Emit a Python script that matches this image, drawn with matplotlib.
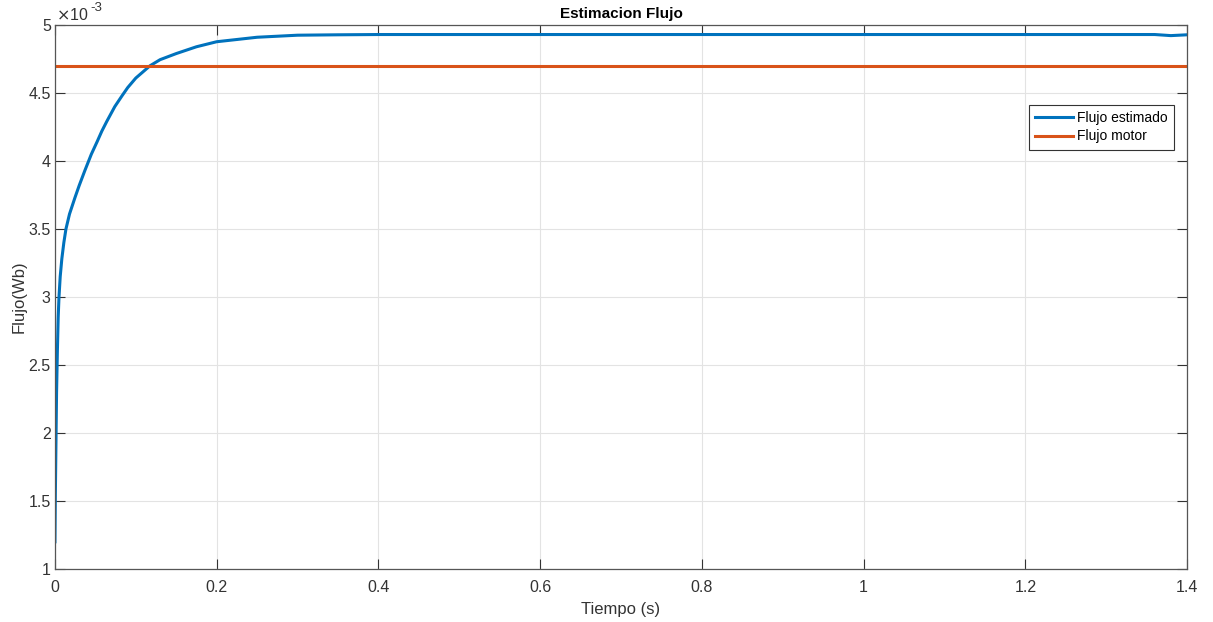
import matplotlib
matplotlib.use('Agg')
import matplotlib.pyplot as plt
import numpy as np

# valores (tiempo en s, flujo en Wb x1e-3)
t_est = [0.0, 0.0005, 0.0012, 0.002, 0.003, 0.004, 0.005, 0.0065, 0.0085, 0.011,
         0.0136, 0.018, 0.0247, 0.03, 0.037, 0.045, 0.052, 0.058, 0.064, 0.074, 0.083,
         0.09, 0.1, 0.1175, 0.13, 0.15, 0.175, 0.2, 0.25, 0.3, 0.35, 0.4, 0.5, 0.6, 0.7,
         0.8, 0.9, 1.0, 1.1, 1.2, 1.3, 1.36, 1.38, 1.4]
flujo_est = [1.2, 1.55, 1.9, 2.3, 2.6, 2.85, 3.0, 3.15, 3.28, 3.4,
             3.5, 3.61, 3.73, 3.82, 3.93, 4.05, 4.14, 4.22, 4.29, 4.4, 4.48,
             4.54, 4.61, 4.7, 4.745, 4.79, 4.84, 4.877, 4.91, 4.925, 4.928, 4.93, 4.93, 4.93, 4.93,
             4.93, 4.93, 4.93, 4.93, 4.93, 4.93, 4.93, 4.922, 4.928]
t_motor = [0.0, 1.4]
flujo_motor = [4.7, 4.7]

plt.rcParams['font.family'] = ['Liberation Sans', 'DejaVu Sans']

fig = plt.figure(figsize=(12.13, 6.22), dpi=100)
ax = fig.add_axes([0.0453, 0.0852, 0.9333, 0.8746])

ax.plot(t_est, np.array(flujo_est) * 1e-3, color='#0072BD', lw=2.2, label='Flujo estimado')
ax.plot(t_motor, np.array(flujo_motor) * 1e-3, color='#D95319', lw=2.2, label='Flujo motor')

ax.set_xlim(0, 1.4)
ax.set_ylim(1e-3, 5e-3)
ax.set_xticks(np.arange(0, 1.41, 0.2))
ax.set_xticklabels(['0', '0.2', '0.4', '0.6', '0.8', '1', '1.2', '1.4'])
ax.set_yticks(np.arange(1e-3, 5.01e-3, 0.5e-3))
ax.set_yticklabels(['1', '1.5', '2', '2.5', '3', '3.5', '4', '4.5', '5'])
ax.grid(True, color='#e3e3e3', lw=0.8)
ax.tick_params(direction='in', top=True, right=True, labelsize=11.5, colors='#333333',
               length=7.5, width=0.8)
ax.tick_params(axis='x', pad=8)
ax.tick_params(axis='y', pad=3)
for s in ax.spines.values():
    s.set_color('#555555')
    s.set_linewidth(0.9)

# exponente del eje y, estilo MATLAB
ax.text(0.001, 1.004, r'$\times$10', transform=ax.transAxes, fontsize=11.5, color='#333333',
        ha='left', va='bottom')
ax.text(0.031, 1.021, '-3', transform=ax.transAxes, fontsize=9.5, color='#333333',
        ha='left', va='bottom')
ax.set_title('Estimacion Flujo', fontsize=11, fontweight='bold', pad=5)
ax.set_xlabel('Tiempo (s)', fontsize=12, color='#333333', labelpad=5)
ax.set_ylabel('Flujo(Wb)', fontsize=12, color='#333333', labelpad=1)

leg = ax.legend(loc='upper right', bbox_to_anchor=(0.9885, 0.853), fontsize=10,
                fancybox=False, framealpha=1, edgecolor='#333333', handlelength=2.7,
                borderpad=0.45, labelspacing=0.3, handletextpad=0.3, borderaxespad=0)
leg.get_frame().set_linewidth(0.8)

fig.savefig('out.png', dpi=100)
